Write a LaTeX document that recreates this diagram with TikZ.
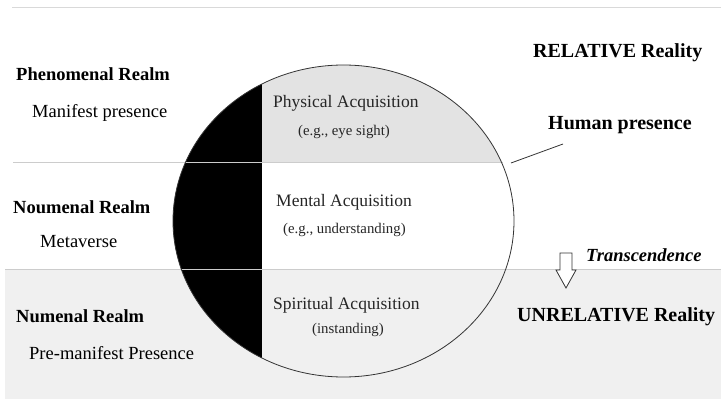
\documentclass[tikz,border=0pt]{standalone}
\usepackage{fontspec}
\setmainfont{Liberation Serif}
\usepackage{xcolor}

\begin{document}
\begin{tikzpicture}[x=1pt, y=-1pt,
  realm/.style={anchor=west, inner sep=0pt, font=\fontsize{18.5}{20}\selectfont\bfseries},
  sub/.style={anchor=west, inner sep=0pt, font=\fontsize{18.5}{20}\selectfont},
  acq/.style={anchor=west, inner sep=0pt, text=black!85, font=\fontsize{17.5}{19}\selectfont},
  eg/.style={anchor=west, inner sep=0pt, text=black!85, font=\fontsize{14.8}{16}\selectfont},
  reality/.style={anchor=west, inner sep=0pt, font=\fontsize{20}{22}\selectfont\bfseries},
  band/.style={gray!40, line width=1pt}]
  \useasboundingbox (0,0) rectangle (721,401);
  % === Pasy ===
  \fill[gray!12] (5,269) rectangle (721,399);
  \draw[gray!30, line width=1pt] (12,8) -- (721,8);
  % === Elipsa ===
  \begin{scope}
    \clip (343.5,221) ellipse [x radius=170.5pt, y radius=156pt];
    \fill[gray!22] (261.5,60) rectangle (520,163);
    \fill[white] (261.5,163) rectangle (520,269);
    \fill[black] (170,60) rectangle (261.5,380);
  \end{scope}
  \draw[band] (13,163) -- (503,163);
  \draw[band] (5,269) -- (721,269);
  \draw[black!80, line width=0.8pt] (343.5,221) ellipse [x radius=170.5pt, y radius=156pt];
  % === Rise vlevo ===
  \node[realm] (phen) at (16,74) {Phenomenal Realm};
  \node[sub] (manif) at (32,113) {Manifest presence};
  \node[realm] (noum) at (13,207) {Noumenal Realm};
  \node[sub] (meta) at (40,242) {Metaverse};
  \node[realm] (numen) at (16,316) {Numenal Realm};
  \node[sub] (premanif) at (29,353) {Pre-manifest Presence};
  % === Nabyvani uvnitr ===
  \node[acq] (phys) at (273,103) {Physical Acquisition};
  \node[eg] (physeg) at (298,132) {(e.g., eye sight)};
  \node[acq] (ment) at (276,202) {Mental Acquisition};
  \node[eg] (menteg) at (283,230) {(e.g., understanding)};
  \node[acq] (spir) at (273,305) {Spiritual Acquisition};
  \node[eg] (spireg) at (312,330) {(instanding)};
  % === Realita vpravo ===
  \node[reality] (rel) at (533,53) {RELATIVE Reality};
  \node[reality] (human) at (548,125) {Human presence};
  \coordinate (rim) at (511,163);
  \coordinate (tag) at (563,144);
  \draw[black!80, line width=0.8pt] (rim) -- (tag);
  \node[realm, font=\fontsize{18.5}{20}\selectfont\bfseries\itshape] (trans) at (586,255) {Transcendence};
  \draw[black!80, fill=white, line width=0.8pt]
    (560,253) -- (572,253) -- (572,270) -- (576,270) -- (566,288)
    -- (556,270) -- (560,270) -- cycle;
  \node[reality] (unrel) at (517,317) {UNRELATIVE Reality};
\end{tikzpicture}
\end{document}
